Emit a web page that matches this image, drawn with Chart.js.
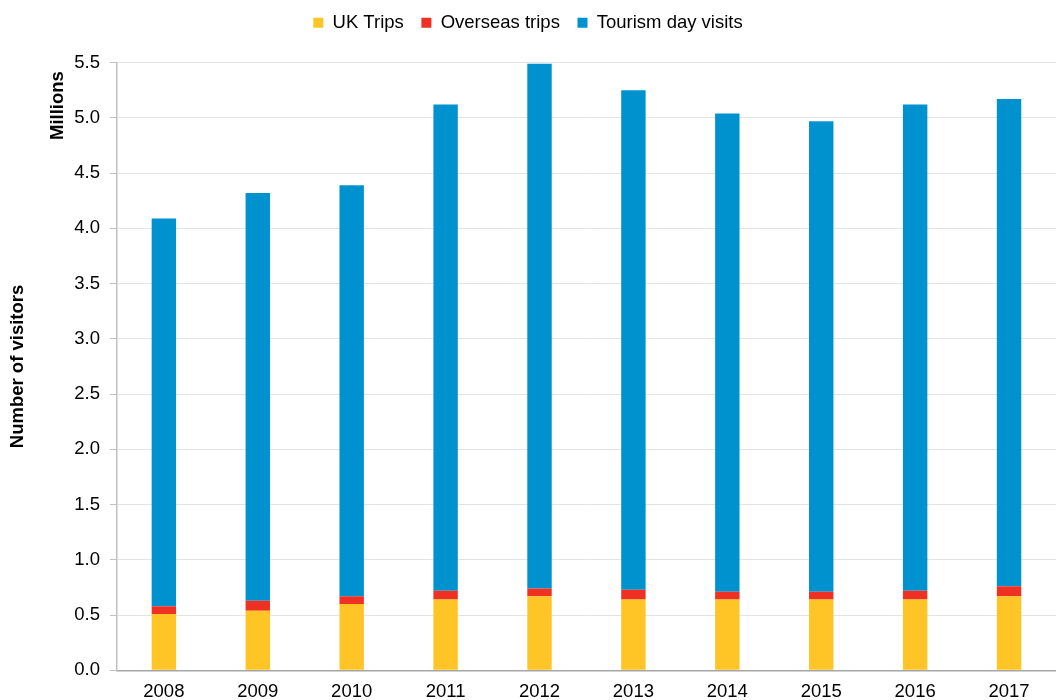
<!DOCTYPE html>
<html>
<head>
<meta charset="utf-8">
<script src="https://cdn.jsdelivr.net/npm/chart.js@4.4.1/dist/chart.umd.min.js"></script>
<style>
  html, body { margin: 0; padding: 0; background: #ffffff; }
  #wrap { width: 1056px; height: 700px; position: relative; }
</style>
</head>
<body>
<div id="wrap"><canvas id="chart" width="1056" height="700"></canvas></div>
<script>
// Visitor numbers by year, in millions
const years = ['2008', '2009', '2010', '2011', '2012', '2013', '2014', '2015', '2016', '2017'];
const ukTrips = [0.51, 0.54, 0.60, 0.64, 0.67, 0.64, 0.64, 0.64, 0.64, 0.67];
const overseasTrips = [0.07, 0.09, 0.07, 0.08, 0.07, 0.09, 0.07, 0.07, 0.08, 0.09];
const dayVisits = [3.51, 3.69, 3.72, 4.40, 4.75, 4.52, 4.33, 4.26, 4.40, 4.41];
const yTicks = [0, 0.5, 1.0, 1.5, 2.0, 2.5, 3.0, 3.5, 4.0, 4.5, 5.0, 5.5];

const FONT = '"Liberation Sans", Arial, sans-serif';
const FS = 18.5;

// Unit label beside the value axis
const unitLabel = {
  id: 'unitLabel',
  afterDraw(chart) {
    const ctx = chart.ctx;
    const area = chart.chartArea;
    ctx.save();
    ctx.translate(58, area.top + 43);
    ctx.rotate(-Math.PI / 2);
    ctx.font = 'bold ' + FS + 'px ' + FONT;
    ctx.fillStyle = '#000000';
    ctx.textAlign = 'center';
    ctx.textBaseline = 'middle';
    ctx.fillText('Millions', 0, 0);
    ctx.restore();
  }
};

// Extra room between the legend and the plot
const legendGap = {
  id: 'legendGap',
  beforeInit(chart) {
    const origFit = chart.legend.fit;
    chart.legend.fit = function () {
      origFit.bind(chart.legend)();
      this.height += 20.5;
    };
  }
};

new Chart(document.getElementById('chart'), {
  type: 'bar',
  data: {
    labels: years,
    datasets: [
      { label: 'UK Trips', data: ukTrips, backgroundColor: '#FFC425' },
      { label: 'Overseas trips', data: overseasTrips, backgroundColor: '#EF3124' },
      { label: 'Tourism day visits', data: dayVisits, backgroundColor: '#0092CE' }
    ]
  },
  options: {
    responsive: false,
    animation: false,
    layout: { padding: { left: 0, right: 0, top: -4, bottom: -13.5 } },
    datasets: {
      bar: { categoryPercentage: 1.0, barPercentage: 0.26, borderWidth: 0 }
    },
    plugins: {
      tooltip: { enabled: false },
      legend: {
        position: 'top',
        labels: {
          boxWidth: 10,
          boxHeight: 10,
          padding: 17.6,
          color: '#000000',
          font: { family: FONT, size: FS }
        }
      }
    },
    scales: {
      x: {
        stacked: true,
        grid: { display: false, drawTicks: false },
        border: { display: true, color: '#A6A6A6', width: 1.5 },
        ticks: { color: '#000000', padding: 10.5, font: { family: FONT, size: FS } }
      },
      y: {
        stacked: true,
        min: 0,
        max: 5.5,
        afterBuildTicks(axis) { axis.ticks = yTicks.map(v => ({ value: v })); },
        grid: { color: '#E3E3E3', tickColor: '#BFBFBF', tickLength: 7, lineWidth: 1 },
        border: { display: true, color: '#BFBFBF', width: 1.5 },
        ticks: {
          color: '#000000',
          padding: 10,
          font: { family: FONT, size: FS },
          callback: v => Number(v).toFixed(1)
        },
        title: {
          display: true,
          text: 'Number of visitors',
          color: '#000000',
          padding: { top: 7, bottom: 35 },
          font: { family: FONT, size: FS, weight: 'bold' }
        }
      }
    }
  },
  plugins: [unitLabel, legendGap]
});
</script>
</body>
</html>
